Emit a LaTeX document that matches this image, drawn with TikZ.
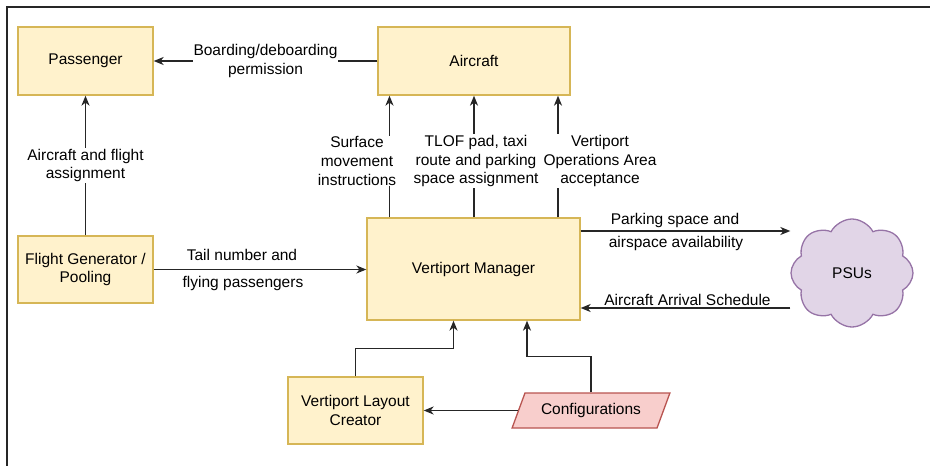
\documentclass[tikz,border=0pt]{standalone}
\usepackage{fontspec}
\setmainfont{Liberation Sans}
\usetikzlibrary{arrows.meta,shapes.geometric,shapes.symbols,calc}
\definecolor{boxfill}{HTML}{FFF2CC}
\definecolor{boxline}{HTML}{D6B656}
\definecolor{cfgfill}{HTML}{F8CECC}
\definecolor{cfgline}{HTML}{B85450}
\definecolor{psufill}{HTML}{E1D5E7}
\definecolor{psuline}{HTML}{9673A6}
\tikzset{
  every node/.style={font=\fontsize{15.5}{18.8}\selectfont, align=center},
  block/.style={draw=boxline, fill=boxfill, line width=1.3pt, inner sep=0pt},
  conn/.style={line width=1.3pt, draw=black!85},
  arr/.style={conn, -{Stealth[length=10pt,width=8pt,inset=3pt]}},
  lbl/.style={fill=white, inner sep=1pt},
}
\begin{document}
\begin{tikzpicture}[x=1pt,y=-1pt]
  \useasboundingbox (0,0) rectangle (930,466);
  % frame
  \draw[line width=1.5pt, black!85] (930,7) -- (7,7) -- (7,466);

  % boxes
  \node[block, minimum width=135pt, minimum height=68pt] (pax) at (85.5,61) {Passenger};
  \node[block, minimum width=192pt, minimum height=68pt] (ac) at (474,61) {Aircraft};
  \node[block, minimum width=135pt, minimum height=67pt] (fg) at (85.5,269.5) {Flight Generator /\\Pooling};
  \node[block, minimum width=213pt, minimum height=102pt] (vm) at (473.5,269) {Vertiport Manager};
  \node[block, minimum width=135pt, minimum height=67pt] (vlc) at (355.5,410.5) {Vertiport Layout\\Creator};
  \node[trapezium, trapezium left angle=56, trapezium right angle=124, trapezium stretches=true,
        draw=cfgline, fill=cfgfill, line width=1.3pt, inner sep=0pt,
        minimum width=158pt, minimum height=35pt] (cfg) at (591,410.5) {Configurations};
  \node[cloud, cloud puffs=8, cloud puff arc=125, cloud ignores aspect,
        draw=psuline, fill=psufill, line width=1.3pt,
        minimum width=122pt, minimum height=108pt] (psu) at (852,273) {PSUs};

  % Aircraft -> Passenger
  \draw[arr] (ac.west) -- node[lbl] {Boarding/deboarding\\permission} (pax.east);
  % Flight generator -> Passenger
  \draw[arr] (fg.north) -- node[lbl] {Aircraft and flight\\assignment} (pax.south);
  % Flight generator -> Vertiport Manager
  \draw[arr] (fg.east) -- (vm.west |- fg.east);
  \node (tn1) at (242,255) {Tail number and};
  \node (tn2) at (243,283) {flying passengers};

  % Vertiport Manager -> Aircraft
  \draw[arr] ([xshift=-84pt]vm.north) -- ([xshift=-84pt]vm.north |- ac.south);
  \draw[arr] ([xshift=0.5pt]vm.north) -- ([xshift=0.5pt]vm.north |- ac.south);
  \draw[arr] ([xshift=84.5pt]vm.north) -- ([xshift=84.5pt]vm.north |- ac.south);
  \node[lbl] (l1) at (357,161) {Surface\\movement\\instructions};
  \node[lbl] (l2) at (476,161) {TLOF pad, taxi\\route and parking\\space assignment};
  \node[lbl] (l3) at (600,161) {Vertiport\\Operations Area\\acceptance};

  % Vertiport Manager <-> PSUs
  \draw[arr] ([yshift=38pt]vm.east) -- ([yshift=38pt]vm.east -| psu.west);
  \node (p1) at (675,220) {Parking space and};
  \node (p2) at (676,243) {airspace availability};
  \draw[arr] ([yshift=-39pt]vm.east -| psu.west) -- node[above, inner sep=2pt, xshift=2pt] {Aircraft Arrival Schedule} ([yshift=-39pt]vm.east);

  % inputs below the manager
  \draw[arr] (vlc.north) |- ++(0,-28) -| ([xshift=-20pt]vm.south);
  \draw[arr] (cfg.north) |- ++(0,-36) -| ([xshift=53.5pt]vm.south);
  \draw[arr] (cfg.west) -- (vlc.east |- cfg.west);
\end{tikzpicture}
\end{document}
